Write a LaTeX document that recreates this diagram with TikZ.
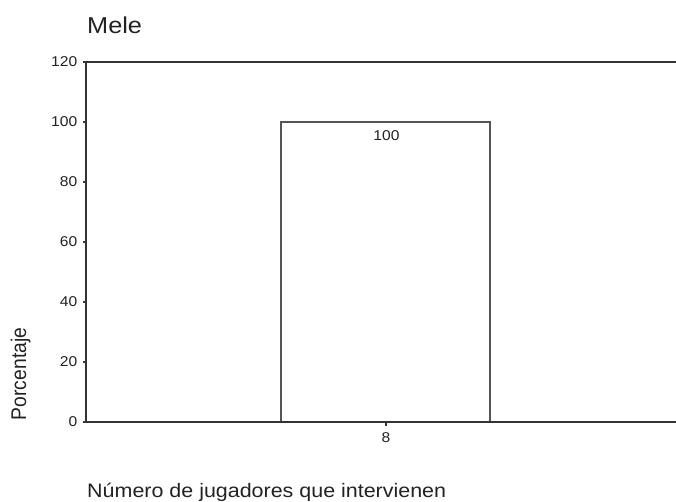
\documentclass[tikz,border=0pt]{standalone}
\usepackage{fontspec}
\setmainfont{Liberation Sans}
\usetikzlibrary{positioning}
\definecolor{axisgray}{HTML}{333333}
\definecolor{bargray}{HTML}{555555}
\definecolor{textgray}{HTML}{222222}
\begin{document}
\begin{tikzpicture}[x=1bp, y=-1bp,
        axisline/.style={draw=axisgray, line width=1.6bp},
        barline/.style={draw=bargray, line width=1.3bp},
        tickmark/.style={draw=axisgray, line width=2.2bp},
        ticklabel/.style={inner sep=0pt, text=textgray, xscale=1.1, font=\fontsize{14.2bp}{17bp}\selectfont},
        axislabel/.style={inner sep=0pt, text=textgray, font=\fontsize{19.5bp}{24bp}\selectfont}]
    \useasboundingbox (0,0) rectangle (676,502);

    \coordinate (TL) at (86,62);
    \coordinate (BL) at (86,422);
    \coordinate (TR) at (676,62);
    \coordinate (BR) at (676,422);

    \node[axislabel, anchor=base west, xscale=1.1, font=\fontsize{23bp}{28bp}\selectfont] (title) at (87,33.3) {Mele};

    \draw[barline] (281,422) rectangle (490,122);
    \node[ticklabel] (barval) at (386.5,135.5) {100};

    \draw[axisline] (TR) -- (TL) -- (BL) -- (BR);

    \foreach \v in {0,20,...,120}{
        \coordinate (yt\v) at (86,{422-3*\v});
        \draw[tickmark] (yt\v) -- ++(-3,0);
        \node[ticklabel, anchor=east] (yl\v) at ([xshift=-8.5bp]yt\v) {\v};
    }

    \coordinate (xt8) at (386,422);
    \draw[tickmark] (xt8) -- ++(0,4);
    \node[ticklabel] (xl8) at (386,437.5) {8};

    \node[axislabel, anchor=base, rotate=90, yscale=1.1, font=\fontsize{19.3bp}{24bp}\selectfont] (ylab) at (26,374) {Porcentaje};
    \node[axislabel, anchor=base west, xscale=1.1] (xlab) at (87,497) {Número de jugadores que intervienen};
\end{tikzpicture}
\end{document}
